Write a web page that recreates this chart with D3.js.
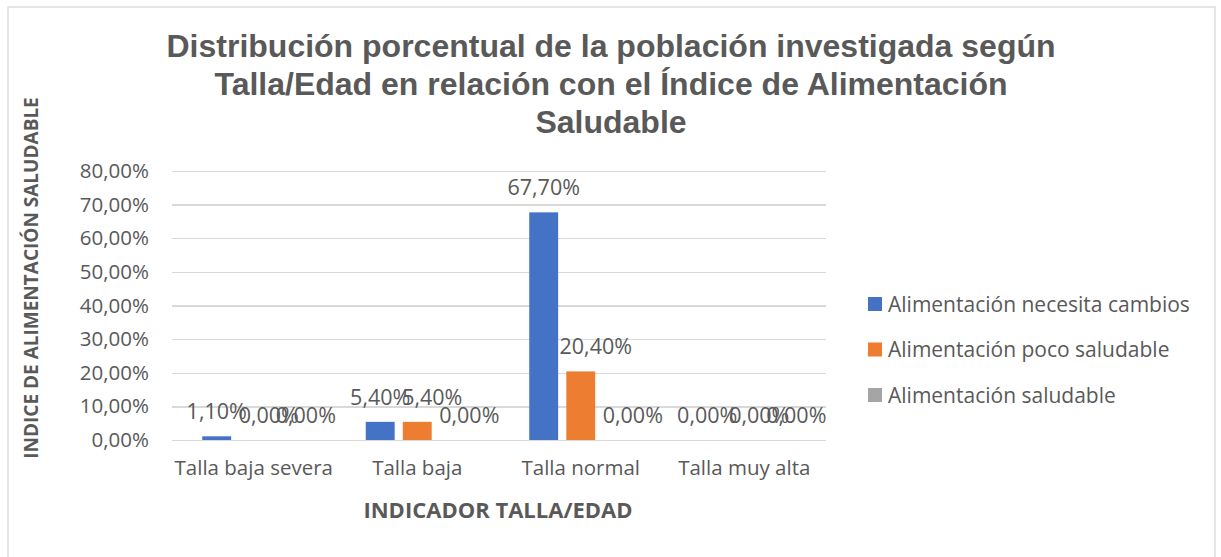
<!DOCTYPE html>
<meta charset="utf-8">
<style>
    body { margin: 0; background: #fff; }
    text { font-family: "Open Sans", sans-serif; fill: #595959; }
    .grid line { stroke: #d9d9d9; stroke-width: 1.3px; shape-rendering: crispEdges; }
    .grid path { display: none; }
    .axis path, .axis line { display: none; }
</style>
<svg id="chart" width="1221" height="557"></svg>
<script src="https://d3js.org/d3.v7.min.js"></script>
<script>
// categories, series and values
var categories = ["Talla baja severa", "Talla baja", "Talla normal", "Talla muy alta"];
var seriesNames = ["Alimentación necesita cambios", "Alimentación poco saludable", "Alimentación saludable"];
var seriesColors = ["#4472C4", "#ED7D31", "#A5A5A5"];
var necesitaCambios = [1.1, 5.4, 67.7, 0];
var pocoSaludable = [0, 5.4, 20.4, 0];
var saludable = [0, 0, 0, 0];
var yTicks = [0, 10, 20, 30, 40, 50, 60, 70, 80];
var titleLines = ["Distribución porcentual de la población investigada según",
                  "Talla/Edad en relación con el Índice de Alimentación",
                  "Saludable"];

var seriesValues = [necesitaCambios, pocoSaludable, saludable];
var labelShift = [0, 15, 15]; // excel nudges the crowded labels to the right
var fmt = v => v.toFixed(2).replace(".", ",") + "%";

var svg = d3.select("#chart");

// outer chart border
svg.append("rect")
    .attr("x", 8).attr("y", 7)
    .attr("width", 1207).attr("height", 560)
    .style("fill", "none")
    .style("stroke", "#d9d9d9")
    .style("stroke-width", "1.3px");

// title
svg.append("g").selectAll("text")
    .data(titleLines)
    .enter()
    .append("text")
    .attr("x", 611)
    .attr("y", (d, i) => 57 + i * 38)
    .attr("text-anchor", "middle")
    .style("font-family", "'Liberation Sans', Arial, sans-serif")
    .style("font-weight", "bold")
    .style("font-size", "32px")
    .text(d => d);

var pLeft = 172, pRight = 826, pTop = 171, pBottom = 440;

var x = d3.scaleBand().domain(categories).range([pLeft, pRight]);
var xs = d3.scaleBand().domain(d3.range(seriesNames.length)).range([0, 103]).paddingInner(0.22);
var y = d3.scaleLinear().domain([0, 80]).range([pBottom, pTop]);

// gridlines
svg.append("g")
    .attr("class", "grid")
    .attr("transform", "translate(" + pLeft + ",0)")
    .call(d3.axisLeft(y).tickValues(yTicks).tickSize(-(pRight - pLeft)).tickFormat(""));

// y axis labels
svg.append("g")
    .attr("class", "axis")
    .attr("transform", "translate(" + (pLeft - 8) + ",0)")
    .call(d3.axisLeft(y).tickValues(yTicks).tickSize(0).tickPadding(15).tickFormat(d => fmt(d)))
    .selectAll("text")
    .style("font-size", "20.5px")
    .style("fill", "#595959");

// x axis labels
svg.append("g")
    .attr("class", "axis")
    .attr("transform", "translate(0," + pBottom + ")")
    .call(d3.axisBottom(x).tickSize(0).tickPadding(20))
    .selectAll("text")
    .style("font-size", "20.5px")
    .style("fill", "#595959");

// bars and labels
var groups = svg.append("g").selectAll("g")
    .data(categories)
    .enter()
    .append("g")
    .attr("transform", c => "translate(" + (x(c) + (x.bandwidth() - 103) / 2) + ",0)");

groups.each(function(c, ci) {
    var g = d3.select(this);
    var rows = seriesValues.map((vals, si) => ({ s: si, v: vals[ci] }));
    g.selectAll("rect")
        .data(rows)
        .enter()
        .append("rect")
        .attr("x", d => xs(d.s))
        .attr("width", xs.bandwidth())
        .attr("y", d => y(d.v))
        .attr("height", d => pBottom - y(d.v))
        .style("fill", d => seriesColors[d.s]);
    g.selectAll("text")
        .data(rows)
        .enter()
        .append("text")
        .attr("x", d => xs(d.s) + xs.bandwidth() / 2 + labelShift[d.s])
        .attr("y", d => y(d.v) - 17)
        .attr("text-anchor", "middle")
        .style("font-size", "21.5px")
        .text(d => fmt(d.v));
});

// axis titles
svg.append("text")
    .attr("transform", "translate(38,278) rotate(-90)")
    .attr("text-anchor", "middle")
    .style("font-size", "19px")
    .style("font-weight", "bold")
    .text("INDICE DE ALIMENTACIÓN SALUDABLE");

svg.append("text")
    .attr("x", 498)
    .attr("y", 518)
    .attr("text-anchor", "middle")
    .style("font-size", "22px")
    .style("font-weight", "bold")
    .text("INDICADOR TALLA/EDAD");

// legend
var legend = svg.append("g").selectAll("g")
    .data(seriesNames)
    .enter()
    .append("g")
    .attr("transform", (d, i) => "translate(868," + (304 + i * 45.5) + ")");

legend.append("rect")
    .attr("x", 0).attr("y", -7)
    .attr("width", 14).attr("height", 14)
    .style("fill", (d, i) => seriesColors[i]);

legend.append("text")
    .attr("x", 20)
    .attr("y", 7.5)
    .style("font-size", "21px")
    .text(d => d);
</script>
